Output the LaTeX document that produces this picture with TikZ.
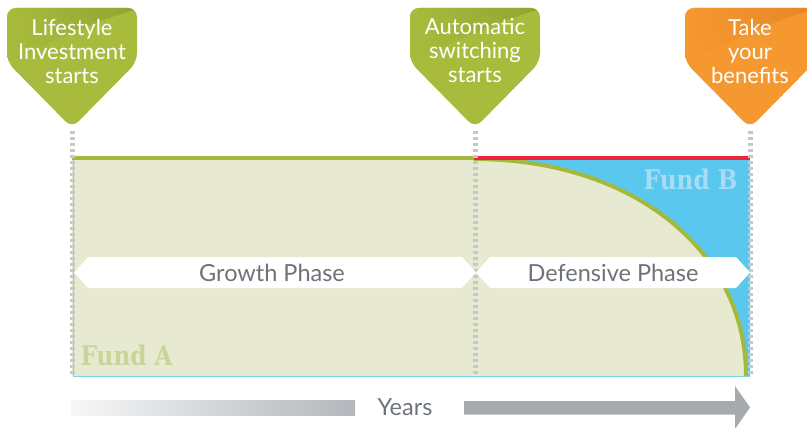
\documentclass[tikz,border=0pt]{standalone}
\usepackage{fontspec}
\setmainfont{Lato}
\newfontfamily\slab{DejaVu Serif}
\usetikzlibrary{shadings}
\definecolor{beige}{HTML}{E7E9D0}
\definecolor{lgreen}{HTML}{A4B93B}
\definecolor{mgreen}{HTML}{A9BB3C}
\definecolor{dkgreen}{HTML}{90A233}
\definecolor{morange}{HTML}{F5982F}
\definecolor{dkorange}{HTML}{E5852A}
\definecolor{lred}{HTML}{E8283A}
\definecolor{fblue}{HTML}{5AC8EE}
\definecolor{bcyan}{HTML}{7FD3E8}
\definecolor{dgray}{HTML}{C6C8CB}
\definecolor{ptext}{HTML}{6D737A}
\definecolor{fatext}{HTML}{C9D49B}
\definecolor{fbtext}{HTML}{A6DCF4}
\definecolor{agray}{HTML}{A6AAAF}
\tikzset{
  dashline/.style={draw=dgray, line width=5pt, dash pattern=on 3pt off 3pt},
  markertext/.style={text=white, align=center, font=\fontsize{22}{24}\selectfont},
  phasetext/.style={text=ptext, font=\fontsize{23.5}{26}\selectfont},
  fundtext/.style={font=\slab\bfseries\fontsize{27}{30}\selectfont},
}
\newcommand\mymarker[5]{%
  \fill[#3, rounded corners=9pt] ({#2-65},8) -- ({#2+65},8) -- ({#2+65},62) -- (#2,128) -- ({#2-65},62) -- cycle;
  \begin{scope}
    \clip[rounded corners=9pt] ({#2-65},8) -- ({#2+65},8) -- ({#2+65},62) -- (#2,128) -- ({#2-65},62) -- cycle;
    \clip ({#2-70},66) .. controls ({#2-20},40) and ({#2+30},18) .. ({#2+70},8) -- ({#2+70},0) -- ({#2-70},0) -- cycle;
    \shade[upper left=#3, lower left=#3, upper right=#4, lower right=#3!60!#4] ({#2-66},7) rectangle ({#2+66},66);
  \end{scope}
  \node[markertext] (#1) at (#2,51) {#5};
}
\begin{document}
\begin{tikzpicture}[x=1pt,y=-1pt]
\useasboundingbox (0,0) rectangle (807,428);
% chart area
\fill[beige] (72,159) rectangle (750,376);
\fill[fblue] (474,160) -- (750,160) -- (750,376) -- (747,376) .. controls (747,250) and (632,160) .. (474,160) -- cycle;
\draw[lgreen, line width=4pt] (474,159) .. controls (632,159) and (746,250) .. (746,376);
\draw[lgreen, line width=4pt] (72,158) -- (475,158);
\draw[lred, line width=4pt] (474,158) -- (750,158);
\draw[bcyan, line width=1pt] (73,160) -- (73,376) -- (750,376);
% markers
\mymarker{m1}{72}{mgreen}{dkgreen}{Lifestyle\\Investment\\starts}
\mymarker{m2}{475}{mgreen}{dkgreen}{Automatic\\switching\\starts}
\mymarker{m3}{750}{morange}{dkorange}{Take\\your\\benefits}
% dashed guides
\coordinate (t1) at (72,131); \coordinate (b1) at (72,376);
\coordinate (t2) at (475,131); \coordinate (b2) at (475,376);
\coordinate (t3) at (750,131); \coordinate (b3) at (750,376);
\draw[dashline] (t1) -- (b1);
\draw[dashline] (t2) -- (b2);
\draw[dashline] (t3) -- (b3);
% phase banners
\fill[white] (74,272.5) -- (88,257) -- (462,257) -- (476,272.5) -- (462,288) -- (88,288) -- cycle;
\fill[white] (476,272.5) -- (490,257) -- (736,257) -- (750,272.5) -- (736,288) -- (490,288) -- cycle;
\node[phasetext] (growth) at (272,272.5) {Growth Phase};
\node[phasetext] (defensive) at (613,272.5) {Defensive Phase};
% fund labels
\node[fundtext, text=fbtext, anchor=east] (fundb) at (741,179) {\scalebox{0.86}[1]{Fund B}};
\node[fundtext, text=fatext, anchor=west] (funda) at (77,355) {\scalebox{0.86}[1]{Fund A}};
% years arrow
\shade[left color=white!90!agray, right color=agray!85!white] (71,400) rectangle (355,415);
\node[phasetext] (years) at (405,407) {Years};
\fill[agray] (464,401) -- (735,401) -- (735,386) -- (750,407.5) -- (735,429) -- (735,414.5) -- (464,414.5) -- cycle;
\end{tikzpicture}
\end{document}
